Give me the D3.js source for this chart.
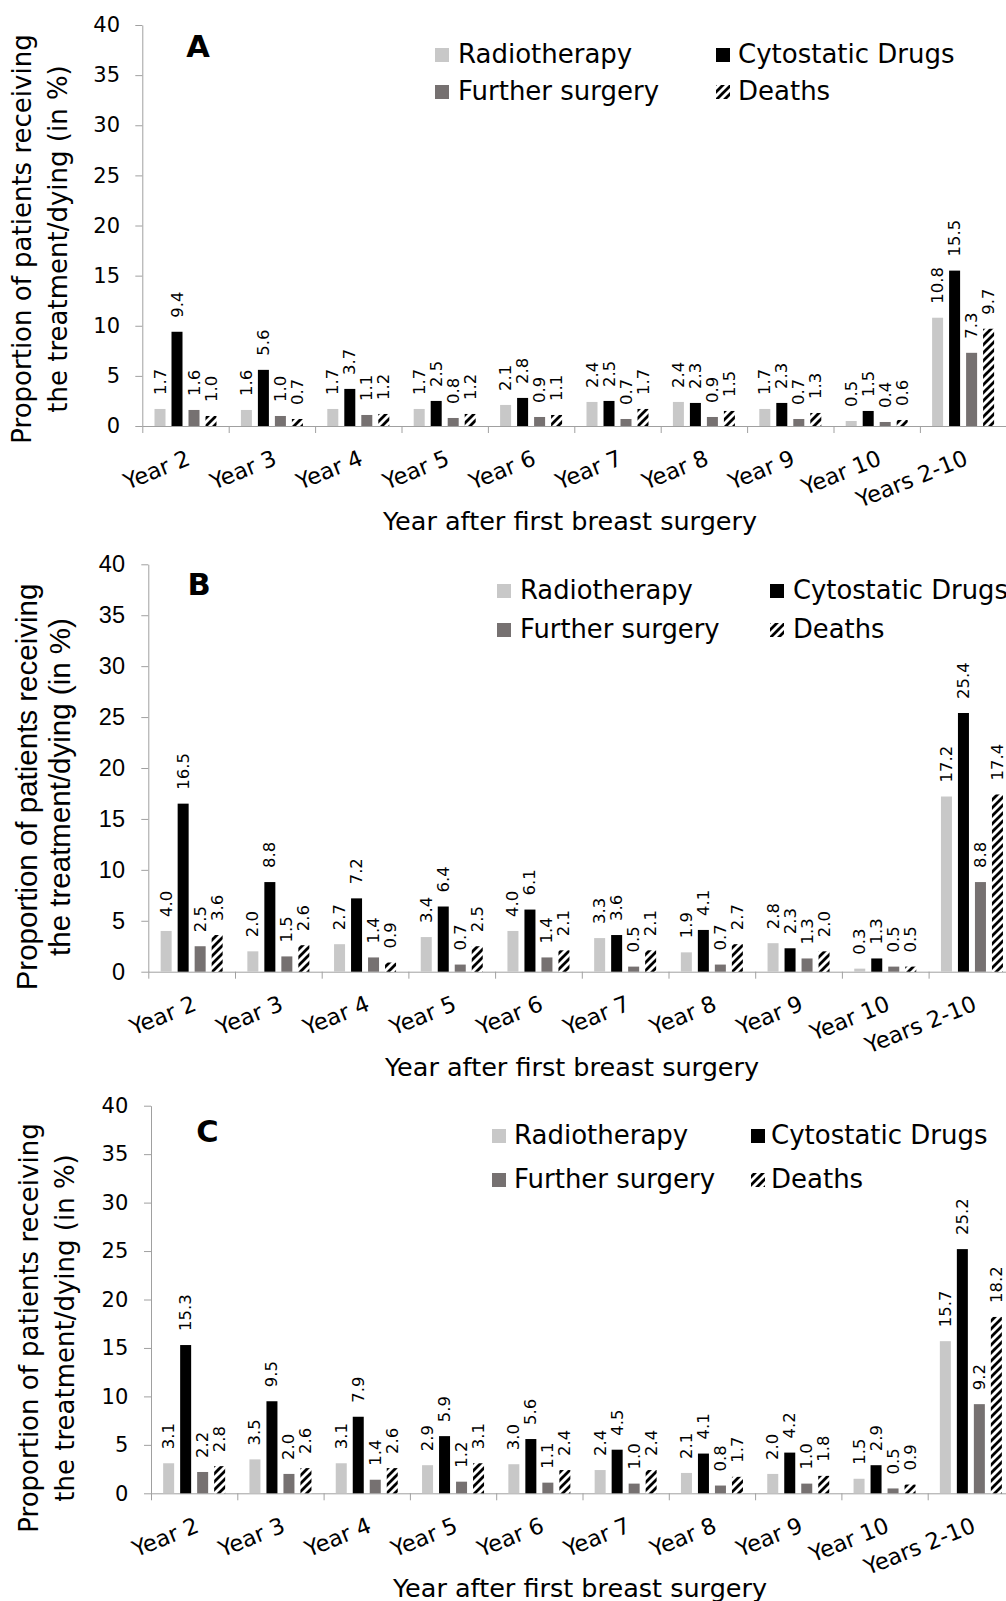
<!DOCTYPE html>
<html><head><meta charset="utf-8">
<script src="https://cdn.jsdelivr.net/npm/d3@7"></script>
<style>body{margin:0;background:#fff} svg{display:block}</style>
</head><body>
<svg id="chart" width="1006" height="1601"></svg>
<script>
const categories = ["Year 2","Year 3","Year 4","Year 5","Year 6","Year 7","Year 8","Year 9","Year 10","Years 2-10"];
const seriesNames = ["Radiotherapy","Cytostatic Drugs","Further surgery","Deaths"];
const yTicks = [0,5,10,15,20,25,30,35,40];
const xTitle = "Year after first breast surgery";
const yTitleLines = ["Proportion of patients receiving","the treatment/dying (in %)"];

const radiotherapyA = [1.7,1.6,1.7,1.7,2.1,2.4,2.4,1.7,0.5,10.8];
const cytostaticA   = [9.4,5.6,3.7,2.5,2.8,2.5,2.3,2.3,1.5,15.5];
const surgeryA      = [1.6,1.0,1.1,0.8,0.9,0.7,0.9,0.7,0.4,7.3];
const deathsA       = [1.0,0.7,1.2,1.2,1.1,1.7,1.5,1.3,0.6,9.7];

const radiotherapyB = [4.0,2.0,2.7,3.4,4.0,3.3,1.9,2.8,0.3,17.2];
const cytostaticB   = [16.5,8.8,7.2,6.4,6.1,3.6,4.1,2.3,1.3,25.4];
const surgeryB      = [2.5,1.5,1.4,0.7,1.4,0.5,0.7,1.3,0.5,8.8];
const deathsB       = [3.6,2.6,0.9,2.5,2.1,2.1,2.7,2.0,0.5,17.4];

const radiotherapyC = [3.1,3.5,3.1,2.9,3.0,2.4,2.1,2.0,1.5,15.7];
const cytostaticC   = [15.3,9.5,7.9,5.9,5.6,4.5,4.1,4.2,2.9,25.2];
const surgeryC      = [2.2,2.0,1.4,1.2,1.1,1.0,0.8,1.0,0.5,9.2];
const deathsC       = [2.8,2.6,2.6,3.1,2.4,2.4,1.7,1.8,0.9,18.2];

const svg = d3.select("#chart");
const DV = "'DejaVu Sans', Verdana, sans-serif";
const LS = "'Liberation Sans', Arial, sans-serif";
const AXIS = "#a0a0a0";

const defs = svg.append("defs");
const pat = defs.append("pattern").attr("id","stripes")
  .attr("patternUnits","userSpaceOnUse").attr("width",8).attr("height",8);
pat.append("rect").attr("width",8).attr("height",8).attr("fill","#fff");
pat.append("path").attr("d","M-2,2 L2,-2 M0,8 L8,0 M6,10 L10,6")
  .attr("stroke","#000").attr("stroke-width",2.8);

const fills = {"Radiotherapy":"#c8c8c8","Cytostatic Drugs":"#000000","Further surgery":"#767171","Deaths":"url(#stripes)"};

function drawPanel(p) {
  const g = svg.append("g");
  const data = [p.radio, p.cyto, p.surg, p.deaths];
  const x = d3.scaleBand().domain(categories).range([p.x0, p.x0 + p.catW*categories.length]).padding(0);
  const inner = d3.scaleBand().domain(seriesNames).range([0, 62]).paddingInner(6/17).paddingOuter(0);
  const off = (p.catW - 62)/2;
  const y = d3.scaleLinear().domain([0,40]).range([p.axisY, p.yTop]);
  const xb = d3.scaleLinear().domain([0, categories.length]).range(x.range());

  // y axis
  const ya = g.append("g").attr("transform",`translate(${p.x0},0)`)
    .call(d3.axisLeft(y).tickValues(yTicks).tickSize(7).tickSizeOuter(0).tickPadding(p.tickPad));
  ya.select(".domain").attr("stroke",AXIS);
  ya.selectAll(".tick line").attr("stroke",AXIS);
  ya.selectAll(".tick text").attr("font-family",p.tickFont).attr("font-size",p.tickSize).attr("fill","#000");

  // x axis (ticks at category boundaries)
  const xa = g.append("g").attr("transform",`translate(0,${p.axisY})`)
    .call(d3.axisBottom(xb).tickValues(d3.range(0, categories.length+1)).tickFormat("").tickSize(7).tickSizeOuter(0));
  xa.select(".domain").attr("stroke",AXIS);
  xa.selectAll(".tick line").attr("stroke",AXIS);

  // bars
  seriesNames.forEach((s, si) => {
    g.append("g").selectAll("rect").data(data[si]).join("rect")
      .attr("x",(d,i)=>x(categories[i]) + off + inner(s))
      .attr("width",inner.bandwidth())
      .attr("y",d=>y(d))
      .attr("height",d=>y(0)-y(d))
      .attr("fill",fills[s]);
  });
  // value labels
  seriesNames.forEach((s, si) => {
    g.append("g").selectAll("text").data(data[si]).join("text")
      .attr("transform",(d,i)=>`translate(${x(categories[i]) + off + inner(s) + inner.bandwidth()/2},${y(d)-14}) rotate(-90)`)
      .attr("text-anchor","start").attr("dominant-baseline","central")
      .attr("font-family",DV).attr("font-size",16.5).attr("fill","#000")
      .text(d=>d3.format(".1f")(d));
  });

  // category labels
  g.append("g").selectAll("text").data(categories).join("text")
    .attr("transform",d=>`translate(${x(d)+p.catW/2},${p.axisY+23}) rotate(-22)`)
    .attr("text-anchor","end").attr("dy","0.72em")
    .attr("font-family",DV).attr("font-size",22.5).attr("fill","#000")
    .text(d=>d);

  // x title
  g.append("text").attr("x",p.xTitleX).attr("y",p.axisY+104).attr("text-anchor","middle")
    .attr("font-family",DV).attr("font-size",25.5).attr("fill","#000").text(xTitle);

  // y title
  yTitleLines.forEach((t, li) => {
    g.append("text").attr("transform",`translate(${p.yTitleX[li]},${p.yTitleY}) rotate(-90)`)
      .attr("text-anchor","middle").attr("font-family",p.yTitleFont).attr("font-size",p.yTitleSize)
      .attr("fill","#000").text(t);
  });

  // panel letter
  g.append("text").attr("x",p.letterX).attr("y",p.letterY).attr("text-anchor","middle")
    .attr("font-family",DV).attr("font-weight","bold").attr("font-size",30.5).attr("fill","#000").text(p.letter);

  // legend
  const pos = [[0,0],[1,0],[0,1],[1,1]];
  seriesNames.forEach((s, si) => {
    const [c, r] = pos[si];
    const sx = p.legSq[c], ty = p.legRow[r];
    g.append("rect").attr("x",sx).attr("y",ty).attr("width",14).attr("height",14).attr("fill",fills[s]);
    g.append("text").attr("x",p.legTx[c]).attr("y",ty+15).attr("font-family",DV).attr("font-size",p.legSize)
      .attr("fill","#000").text(s);
  });
}

drawPanel({letter:"A", radio:radiotherapyA, cyto:cytostaticA, surg:surgeryA, deaths:deathsA,
  x0:142.3, axisY:426, yTop:25, catW:86.4, tickPad:15.3, tickFont:DV, tickSize:21,
  yTitleFont:DV, yTitleSize:26, yTitleX:[31,66.5], yTitleY:239, xTitleX:570,
  letterX:198, letterY:56.7, legSq:[435,716], legTx:[458,738], legRow:[48,85], legSize:26});

drawPanel({letter:"B", radio:radiotherapyB, cyto:cytostaticB, surg:surgeryB, deaths:deathsB,
  x0:148.3, axisY:971.7, yTop:564.3, catW:86.7, tickPad:16.3, tickFont:LS, tickSize:23.5,
  yTitleFont:LS, yTitleSize:29.5, yTitleX:[36.5,70], yTitleY:787, xTitleX:572,
  letterX:199, letterY:595, legSq:[497,770], legTx:[520,793], legRow:[584,623], legSize:25.8});

drawPanel({letter:"C", radio:radiotherapyC, cyto:cytostaticC, surg:surgeryC, deaths:deathsC,
  x0:151, axisY:1493.3, yTop:1105.7, catW:86.3, tickPad:15.7, tickFont:DV, tickSize:21,
  yTitleFont:DV, yTitleSize:26, yTitleX:[38,74], yTitleY:1328, xTitleX:580,
  letterX:207.5, letterY:1142, legSq:[492,751], legTx:[514,771], legRow:[1129,1173], legSize:26});
</script>
</body></html>
